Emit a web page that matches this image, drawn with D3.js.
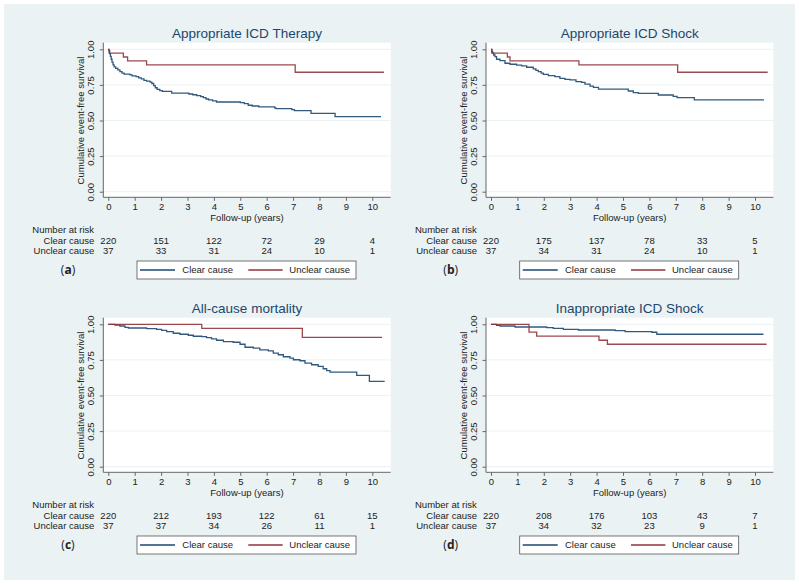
<!DOCTYPE html>
<html>
<head>
<meta charset="utf-8">
<script src="https://cdn.jsdelivr.net/npm/d3@7"></script>
<style>
  html, body { margin: 0; padding: 0; background: #ffffff; }
  svg { display: block; }
  text { font-family: "Liberation Sans", Arial, sans-serif; }
</style>
</head>
<body>
<svg id="chart" width="799" height="584"></svg>
<script>
// ---------------- DATA ----------------
const timeTicks = [0, 1, 2, 3, 4, 5, 6, 7, 8, 9, 10];
const survTicks = [0, 0.25, 0.5, 0.75, 1];
const survTickLabels = ["0.00", "0.25", "0.50", "0.75", "1.00"];
const riskTimes = [0, 2, 4, 6, 8, 10];
const groupNames = ["Clear cause", "Unclear cause"];
const panelTitles = ["Appropriate ICD Therapy", "Appropriate ICD Shock", "All-cause mortality", "Inappropriate ICD Shock"];
const panelLetters = ["a", "b", "c", "d"];

// Kaplan-Meier step points [years, survival]; last point = end of follow-up
const therapyClear = [[0,1],[0.02,0.99],[0.05,0.97],[0.08,0.95],[0.11,0.93],[0.14,0.91],[0.18,0.89],[0.22,0.876],[0.28,0.866],[0.36,0.855],[0.44,0.843],[0.52,0.832],[0.6,0.826],[0.82,0.82],[0.9,0.814],[1.05,0.808],[1.15,0.8],[1.25,0.792],[1.35,0.782],[1.45,0.776],[1.58,0.77],[1.65,0.76],[1.72,0.745],[1.78,0.73],[1.85,0.718],[1.95,0.71],[2.05,0.705],[2.4,0.692],[3.05,0.686],[3.2,0.681],[3.35,0.675],[3.5,0.668],[3.6,0.66],[3.7,0.651],[3.8,0.645],[3.95,0.638],[4.1,0.63],[5.0,0.625],[5.15,0.618],[5.3,0.607],[5.45,0.602],[5.7,0.596],[6.3,0.589],[6.35,0.583],[6.95,0.576],[7.05,0.569],[7.68,0.55],[8.59,0.527],[10.33,0.527]];
const therapyUnclear = [[0,1],[0.03,0.973],[0.57,0.946],[0.73,0.919],[1.45,0.891],[7.08,0.839],[10.44,0.839]];

const shockClear = [[0,1],[0.03,0.985],[0.06,0.975],[0.1,0.96],[0.15,0.948],[0.21,0.93],[0.34,0.92],[0.53,0.902],[0.72,0.895],[0.97,0.889],[1.16,0.883],[1.35,0.874],[1.6,0.862],[1.7,0.852],[1.79,0.843],[1.9,0.832],[1.98,0.824],[2.17,0.815],[2.42,0.808],[2.61,0.796],[2.8,0.789],[2.99,0.785],[3.22,0.773],[3.43,0.768],[3.56,0.756],[3.75,0.742],[3.88,0.733],[4.07,0.721],[5.2,0.707],[5.39,0.696],[5.58,0.691],[6.34,0.679],[6.9,0.67],[7.05,0.661],[7.7,0.645],[10.34,0.645]];
const shockUnclear = [[0,1],[0.03,0.973],[0.62,0.946],[0.72,0.919],[3.33,0.891],[7.07,0.839],[10.48,0.839]];

const mortalityClear = [[0,1],[0.25,0.995],[0.44,0.988],[0.63,0.979],[0.76,0.974],[1.45,0.97],[1.83,0.965],[2.02,0.958],[2.21,0.949],[2.46,0.937],[2.71,0.93],[3.03,0.923],[3.22,0.916],[3.54,0.914],[3.72,0.907],[3.91,0.897],[4.1,0.888],[4.36,0.879],[4.73,0.874],[4.99,0.86],[5.18,0.839],[5.49,0.832],[5.74,0.82],[6.06,0.814],[6.25,0.797],[6.44,0.786],[6.63,0.772],[6.88,0.762],[7.01,0.751],[7.26,0.744],[7.45,0.727],[7.7,0.716],[7.95,0.704],[8.14,0.688],[8.27,0.674],[8.4,0.664],[9.41,0.641],[9.89,0.599],[10.47,0.599]];
const mortalityUnclear = [[0,1],[3.54,0.972],[7.35,0.908],[10.37,0.908]];

const inappClear = [[0,1],[0.21,0.993],[0.34,0.988],[0.91,0.981],[2.11,0.977],[2.36,0.972],[2.74,0.965],[3.31,0.96],[4.7,0.956],[5.08,0.949],[6.09,0.944],[6.28,0.93],[10.32,0.93]];
const inappUnclear = [[0,1],[1.44,0.945],[1.73,0.917],[4.09,0.888],[4.41,0.86],[10.44,0.86]];

// Numbers at risk at riskTimes
const riskTherapyClear = [220, 151, 122, 72, 29, 4];
const riskTherapyUnclear = [37, 33, 31, 24, 10, 1];
const riskShockClear = [220, 175, 137, 78, 33, 5];
const riskShockUnclear = [37, 34, 31, 24, 10, 1];
const riskMortalityClear = [220, 212, 193, 122, 61, 15];
const riskMortalityUnclear = [37, 37, 34, 26, 11, 1];
const riskInappClear = [220, 208, 176, 103, 43, 7];
const riskInappUnclear = [37, 34, 32, 23, 9, 1];

// --------------- BUILD ---------------
const panels = [
  { title: panelTitles[0], letter: panelLetters[0], curves: [therapyClear, therapyUnclear], risk: [riskTherapyClear, riskTherapyUnclear] },
  { title: panelTitles[1], letter: panelLetters[1], curves: [shockClear, shockUnclear], risk: [riskShockClear, riskShockUnclear] },
  { title: panelTitles[2], letter: panelLetters[2], curves: [mortalityClear, mortalityUnclear], risk: [riskMortalityClear, riskMortalityUnclear] },
  { title: panelTitles[3], letter: panelLetters[3], curves: [inappClear, inappUnclear], risk: [riskInappClear, riskInappUnclear] }
];

const colors = ["#1a476f", "#90353b"];
const bg = "#eaf2f3";
const svg = d3.select("#chart");

svg.append("rect").attr("x", 4).attr("y", 4).attr("width", 791).attr("height", 576).attr("fill", bg);

const offsets = [[0, 0], [382.7, 0], [0, 275], [382.7, 275]];

panels.forEach((p, i) => {
  const [ox, oy] = offsets[i];
  const g = svg.append("g").attr("transform", `translate(${ox},${oy})`);

  const x = d3.scaleLinear().domain([0, 10]).range([108.3, 372.3]);
  const y = d3.scaleLinear().domain([0, 1]).range([191.7, 49.3]);
  const frame = { l: 103.3, r: 390.7, t: 42.7, b: 197.3 };

  // plot region
  g.append("rect").attr("x", frame.l).attr("y", frame.t)
    .attr("width", frame.r - frame.l).attr("height", frame.b - frame.t).attr("fill", "#ffffff");

  // grid lines
  g.selectAll(".grid").data(survTicks).enter().append("line")
    .attr("x1", frame.l).attr("x2", frame.r)
    .attr("y1", d => y(d)).attr("y2", d => y(d))
    .attr("stroke", bg).attr("stroke-width", 1);

  // x axis
  const xAxis = d3.axisBottom(x).tickValues(timeTicks).tickSize(3.5).tickPadding(2.5).tickFormat(d3.format("d"));
  const xa = g.append("g").attr("transform", `translate(0,${frame.b})`).call(xAxis);
  xa.select(".domain").attr("d", `M${frame.l},0H${frame.r}`).attr("stroke", "#666");
  xa.selectAll(".tick line").attr("stroke", "#666");
  xa.selectAll(".tick text").attr("fill", "#222").style("font-size", "9.5px").style("font-family", "'Liberation Sans', Arial, sans-serif");

  // y axis
  const yAxis = d3.axisLeft(y).tickValues(survTicks).tickSize(3.5).tickFormat((d, k) => survTickLabels[k]);
  const ya = g.append("g").attr("transform", `translate(${frame.l},0)`).call(yAxis);
  ya.select(".domain").attr("d", `M0,${frame.t}V${frame.b}`).attr("stroke", "#666");
  ya.selectAll(".tick line").attr("stroke", "#666");
  ya.selectAll(".tick text")
    .attr("x", null).attr("dy", null)
    .attr("text-anchor", "middle")
    .attr("transform", "translate(-9,0) rotate(-90)")
    .attr("fill", "#222").style("font-size", "9.5px").style("font-family", "'Liberation Sans', Arial, sans-serif");

  // axis titles
  g.append("text").attr("x", 247).attr("y", 220.5).attr("text-anchor", "middle")
    .attr("fill", "#222").style("font-size", "9.5px").text("Follow-up (years)");
  g.append("text").attr("transform", `translate(84.2,${(y(0) + y(1)) / 2}) rotate(-90)`)
    .attr("text-anchor", "middle").attr("fill", "#222").style("font-size", "9.5px")
    .text("Cumulative event-free survival");

  // title
  g.append("text").attr("x", 247).attr("y", 38).attr("text-anchor", "middle")
    .attr("fill", "#1a476f").style("font-size", "13.5px").text(p.title);

  // curves
  const line = d3.line().x(d => x(d[0])).y(d => y(d[1])).curve(d3.curveStepAfter);
  p.curves.forEach((c, k) => {
    g.append("path").datum(c).attr("d", line).attr("fill", "none")
      .attr("stroke", colors[k]).attr("stroke-width", 1.3).attr("opacity", 0.9);
  });

  // risk table
  g.append("text").attr("x", 32.3).attr("y", 232.6).attr("fill", "#222")
    .style("font-size", "9.5px").text("Number at risk");
  const rowY = [243.9, 254.4];
  groupNames.forEach((name, k) => {
    g.append("text").attr("x", 94.3).attr("y", rowY[k]).attr("text-anchor", "end")
      .attr("fill", "#222").style("font-size", "9.5px").text(name);
    g.selectAll(".risk" + k).data(p.risk[k]).enter().append("text")
      .attr("x", (d, j) => x(riskTimes[j])).attr("y", rowY[k]).attr("text-anchor", "middle")
      .attr("fill", "#222").style("font-size", "9.5px").text(d => d);
  });

  // panel letter
  const lt = g.append("text").attr("x", 68).attr("y", 274.3).attr("text-anchor", "middle")
    .attr("fill", "#222").style("font-size", "12px").style("font-family", "'Open Sans', 'Noto Sans', sans-serif");
  lt.append("tspan").text("(");
  lt.append("tspan").style("font-weight", "bold").text(p.letter);
  lt.append("tspan").text(")");

  // legend
  g.append("rect").attr("x", 137).attr("y", 261).attr("width", 219).attr("height", 18)
    .attr("fill", "#ffffff").attr("stroke", "#555").attr("stroke-width", 0.8);
  const legX = [[140, 175, 182.3], [248.3, 282.7, 289.3]];
  groupNames.forEach((name, k) => {
    g.append("line").attr("x1", legX[k][0]).attr("x2", legX[k][1]).attr("y1", 270).attr("y2", 270)
      .attr("stroke", colors[k]).attr("stroke-width", 1.3);
    g.append("text").attr("x", legX[k][2]).attr("y", 273.4).attr("fill", "#222")
      .style("font-size", "9.5px").text(name);
  });
});
</script>
</body>
</html>
